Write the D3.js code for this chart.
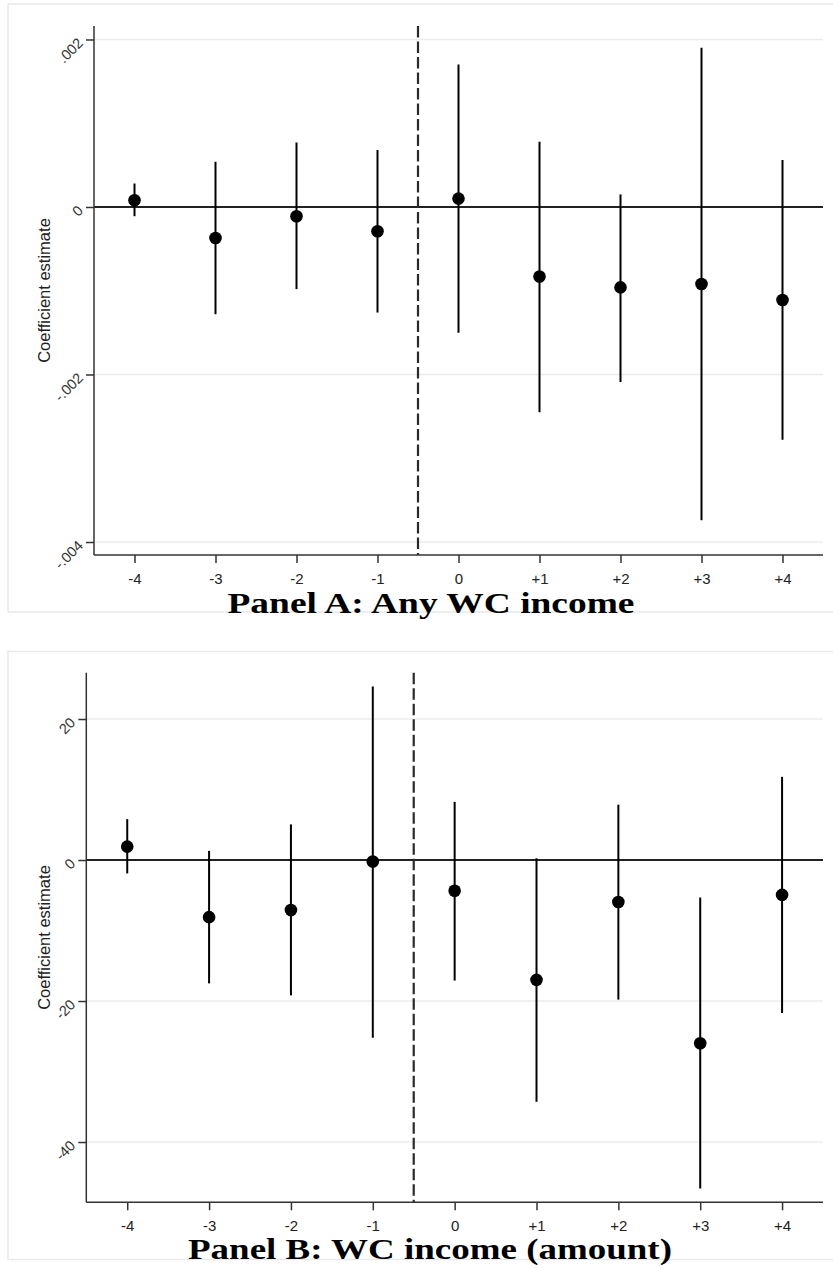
<!DOCTYPE html>
<html><head><meta charset="utf-8">
<script src="https://cdn.jsdelivr.net/npm/d3@7"></script>
<style>
html,body{margin:0;padding:0;background:#fff;}
svg{display:block;}
</style></head>
<body>
<svg id="chart" width="833" height="1269"></svg>
<script>
// ---------- DATA ----------
const periods = [-4, -3, -2, -1, 0, 1, 2, 3, 4];
const periodLabels = ["-4", "-3", "-2", "-1", "0", "+1", "+2", "+3", "+4"];
const eventLine = -0.5;

// Panel A: Any WC income
const titleA = "Panel A: Any WC income";
const coefA = [0.00008, -0.00037, -0.00011, -0.00029, 0.00010, -0.00083, -0.00096, -0.00092, -0.00111];
const lowA  = [-0.00011, -0.00128, -0.00098, -0.00126, -0.00150, -0.00245, -0.00209, -0.00374, -0.00278];
const highA = [0.00028, 0.00054, 0.00077, 0.00068, 0.00170, 0.00078, 0.00015, 0.00190, 0.00056];
const yTicksA = [-0.004, -0.002, 0, 0.002];
const yTickLabelsA = ["-.004", "-.002", "0", ".002"];
const yDomainA = [-0.004155, 0.002161];

// Panel B: WC income (amount)
const titleB = "Panel B: WC income (amount)";
const coefB = [1.9, -8.1, -7.1, -0.2, -4.35, -17.0, -5.95, -26.0, -4.95];
const lowB  = [-1.9, -17.5, -19.2, -25.2, -17.1, -34.3, -19.8, -46.6, -21.7];
const highB = [5.8, 1.3, 5.05, 24.6, 8.25, 0.25, 7.85, -5.3, 11.8];
const yTicksB = [-40, -20, 0, 20];
const yTickLabelsB = ["-40", "-20", "0", "20"];
const yDomainB = [-48.55, 26.57];

const yTitle = "Coefficient estimate";

// ---------- DRAW ----------
const svg = d3.select("#chart");

function drawPanel(cfg) {
  const g = svg.append("g");
  // outer frame
  g.append("rect")
    .attr("x", cfg.frame[0]).attr("y", cfg.frame[1])
    .attr("width", cfg.frame[2]).attr("height", cfg.frame[3])
    .attr("fill", "#fff").attr("stroke", "#e9e9e9").attr("stroke-width", 1.5);

  const x = d3.scaleLinear().domain([-4.5, 4.5]).range([cfg.left, cfg.right]);
  const y = d3.scaleLinear().domain(cfg.yDomain).range([cfg.bottom, cfg.top]);

  // gridlines
  g.append("g").selectAll("line").data(cfg.yTicks.filter(d => d !== 0)).join("line")
    .attr("x1", cfg.left).attr("x2", cfg.right)
    .attr("y1", d => y(d)).attr("y2", d => y(d))
    .attr("stroke", "#ececec").attr("stroke-width", 1.5);

  // zero line
  g.append("line")
    .attr("x1", cfg.left).attr("x2", cfg.right)
    .attr("y1", y(0)).attr("y2", y(0))
    .attr("stroke", "#222").attr("stroke-width", 2);

  // dashed event line
  g.append("line")
    .attr("x1", x(eventLine)).attr("x2", x(eventLine))
    .attr("y1", cfg.top).attr("y2", cfg.bottom)
    .attr("stroke", "#2a2a2a").attr("stroke-width", 2.2)
    .attr("stroke-dasharray", "11.5,4");

  // y axis
  const yAxis = d3.axisLeft(y).tickValues(cfg.yTicks)
    .tickFormat((d, i) => cfg.yTickLabels[i]).tickSize(8).tickSizeOuter(0);
  const ya = g.append("g").attr("transform", `translate(${cfg.left},0)`).call(yAxis);
  ya.select(".domain").attr("d", `M0,${cfg.top}V${cfg.bottom}`).attr("stroke", "#333").attr("stroke-width", 1.5);
  ya.selectAll(".tick line").attr("stroke", "#333").attr("stroke-width", 1.5);
  ya.selectAll(".tick text")
    .attr("font-family", "Liberation Sans, Arial, sans-serif")
    .attr("font-size", 14.5).attr("fill", "#333")
    .attr("x", null).attr("dy", null)
    .attr("text-anchor", "end")
    .attr("transform", "translate(-10,4) rotate(-45)");

  // x axis
  const xAxis = d3.axisBottom(x).tickValues(periods)
    .tickFormat((d, i) => periodLabels[i]).tickSize(8).tickSizeOuter(0);
  const xa = g.append("g").attr("transform", `translate(0,${cfg.bottom})`).call(xAxis);
  xa.select(".domain").attr("d", `M${cfg.left},0H${cfg.right}`).attr("stroke", "#333").attr("stroke-width", 1.5);
  xa.selectAll(".tick line").attr("stroke", "#333").attr("stroke-width", 1.5);
  xa.selectAll(".tick text")
    .attr("font-family", "Liberation Sans, Arial, sans-serif")
    .attr("font-size", 15).attr("fill", "#222")
    .attr("y", 18).attr("dy", "0.71em");

  // y title
  g.append("text")
    .attr("transform", `translate(${cfg.yTitleX},${(cfg.top + cfg.bottom) / 2}) rotate(-90)`)
    .attr("text-anchor", "middle")
    .attr("font-family", "Liberation Sans, Arial, sans-serif")
    .attr("font-size", 16.5).attr("fill", "#222")
    .text(yTitle);

  // confidence intervals
  g.append("g").selectAll("line").data(periods).join("line")
    .attr("x1", d => x(d)).attr("x2", d => x(d))
    .attr("y1", (d, i) => y(cfg.low[i])).attr("y2", (d, i) => y(cfg.high[i]))
    .attr("stroke", "#000").attr("stroke-width", 2);

  // points
  g.append("g").selectAll("circle").data(periods).join("circle")
    .attr("cx", d => x(d)).attr("cy", (d, i) => y(cfg.coef[i]))
    .attr("r", 6.3).attr("fill", "#000");

  // title
  const t = g.append("text")
    .attr("x", cfg.titleCenter).attr("y", cfg.titleBaseline)
    .attr("text-anchor", "middle")
    .attr("font-family", "Liberation Serif, Times New Roman, serif")
    .attr("font-weight", "bold").attr("font-size", 30).attr("fill", "#000")
    .text(cfg.title);
  const w = t.node().getComputedTextLength();
  if (Math.abs(w - cfg.titleWidth) > 2) {
    t.attr("textLength", cfg.titleWidth).attr("lengthAdjust", "spacingAndGlyphs");
  }
}

drawPanel({
  frame: [8, 4, 840, 608],
  left: 94, right: 823, top: 26, bottom: 555,
  yDomain: yDomainA, yTicks: yTicksA, yTickLabels: yTickLabelsA,
  coef: coefA, low: lowA, high: highA,
  yTitleX: 50,
  title: titleA, titleCenter: 431, titleBaseline: 613, titleWidth: 407
});

drawPanel({
  frame: [8, 651.5, 840, 608],
  left: 86.3, right: 823, top: 672.7, bottom: 1202.3,
  yDomain: yDomainB, yTicks: yTicksB, yTickLabels: yTickLabelsB,
  coef: coefB, low: lowB, high: highB,
  yTitleX: 50,
  title: titleB, titleCenter: 430, titleBaseline: 1259, titleWidth: 484
});
</script>
</body></html>
